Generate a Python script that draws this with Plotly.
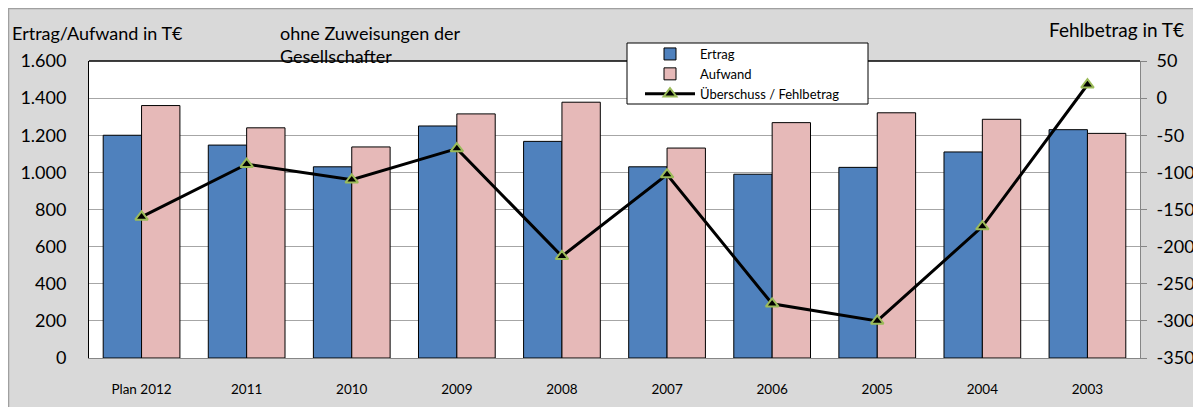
import plotly.graph_objects as go

categories = ["Plan 2012", "2011", "2010", "2009", "2008", "2007", "2006", "2005", "2004", "2003"]
ertrag = [1200, 1147, 1030, 1250, 1167, 1030, 990, 1027, 1110, 1230]
aufwand = [1360, 1240, 1137, 1315, 1378, 1131, 1268, 1321, 1286, 1210]
saldo = [-160, -89, -110, -68, -213, -103, -277, -300, -173, 18]

left_ticks = [0, 200, 400, 600, 800, 1000, 1200, 1400, 1600]
left_labels = ["0", "200", "400", "600", "800", "1.000", "1.200", "1.400", "1.600"]
right_ticks = [-350, -300, -250, -200, -150, -100, -50, 0, 50]
right_labels = ["-350", "-300", "-250", "-200", "-150", "-100", "-50", "0", "50"]

FONT = "Lato, Carlito, Calibri, sans-serif"
OFF = 8  # page body margin
W, H = 1201 - OFF, 407
# plot area in screen pixels
L, R, T, B = 89, 1140, 61, 358

def px(x):
    return (x - L) / (R - L)

def py(y):
    return (B - y) / (B - T)

fig = go.Figure()
fig.add_trace(go.Bar(x=categories, y=ertrag, name="Ertrag",
                     marker=dict(color="#4f81bd", line=dict(color="black", width=1))))
fig.add_trace(go.Bar(x=categories, y=aufwand, name="Aufwand",
                     marker=dict(color="#e6b9b8", line=dict(color="black", width=1))))
fig.add_trace(go.Scatter(x=categories, y=saldo, name="Überschuss / Fehlbetrag", yaxis="y2",
                         mode="lines+markers",
                         line=dict(color="black", width=3),
                         marker=dict(symbol="triangle-up", size=11, color="black",
                                     line=dict(color="#9bbb59", width=2))))

fig.update_layout(
    width=W, height=H,
    autosize=False,
    margin=dict(l=L - OFF, r=W - (R - OFF), t=T - OFF, b=H - (B - OFF), pad=0, autoexpand=False),
    paper_bgcolor="#d9d9d9",
    plot_bgcolor="white",
    font=dict(family=FONT, color="black"),
    barmode="group",
    bargap=0.27,
    bargroupgap=0,
    xaxis=dict(range=[-0.5, len(categories) - 0.5], autorange=False,
               showgrid=False, showline=True, linecolor="#868686", linewidth=1, automargin=False,
               ticks="", tickfont=dict(size=13.5), ticklabelstandoff=19),
    yaxis=dict(range=[0, 1600], tickmode="array", tickvals=left_ticks, ticktext=left_labels,
               showgrid=True, gridcolor="#a6a6a6", gridwidth=1, automargin=False,
               showline=True, linecolor="black", linewidth=1,
               ticks="", tickfont=dict(size=18), ticklabelstandoff=18, zeroline=False),
    yaxis2=dict(range=[-350, 50], tickmode="array", tickvals=right_ticks, ticktext=right_labels,
                overlaying="y", side="right", showgrid=False, zeroline=False, automargin=False,
                showline=True, linecolor="#868686", linewidth=1,
                ticks="outside", ticklen=6, tickcolor="#868686",
                tickfont=dict(size=18), ticklabelstandoff=6),
    legend=dict(x=px(640), y=py(39), xanchor="left", yanchor="top",
                bgcolor="rgba(0,0,0,0)", borderwidth=0,
                font=dict(size=13), tracegroupgap=0, itemwidth=50,
                traceorder="normal"),
    showlegend=True,
)

shapes = [
    # top border of plot area
    dict(type="line", xref="paper", yref="paper", x0=0, x1=1, y0=1, y1=1,
         line=dict(color="black", width=1.5), layer="above"),
    # chart area border (figure edge)
    dict(type="rect", xref="paper", yref="paper", x0=px(8.5), x1=px(1215), y0=py(420), y1=py(8.5),
         fillcolor="rgba(0,0,0,0)", line=dict(color="#a0a0a0", width=1.5), layer="below"),
    # legend box
    dict(type="rect", xref="paper", yref="paper", x0=px(627), x1=px(868), y0=py(104), y1=py(43),
         fillcolor="white", line=dict(color="black", width=1), layer="above"),
]
fig.update_layout(shapes=shapes)

fig.add_annotation(text="Ertrag/Aufwand in T€", xref="paper", yref="paper",
                   x=px(10), y=py(33), xanchor="left", yanchor="middle",
                   showarrow=False, font=dict(size=18))
fig.add_annotation(text="Fehlbetrag in T€", xref="paper", yref="paper",
                   x=px(1186), y=py(30), xanchor="right", yanchor="middle",
                   showarrow=False, font=dict(size=19))
fig.add_annotation(text="ohne Zuweisungen der<br>Gesellschafter", xref="paper", yref="paper",
                   x=px(278), y=py(20), xanchor="left", yanchor="top", align="left",
                   showarrow=False, font=dict(size=18))

fig.write_html("out.html")
